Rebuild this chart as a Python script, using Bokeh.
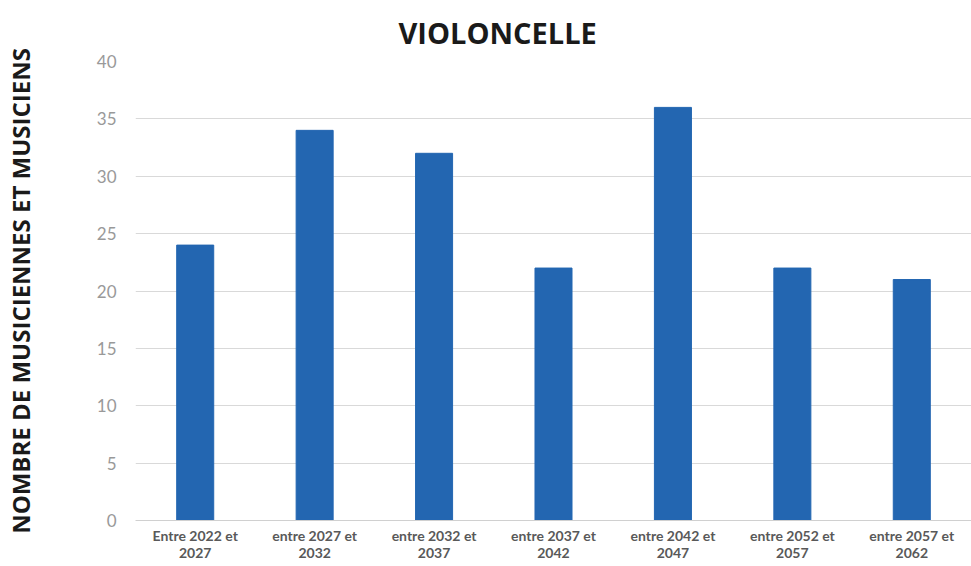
from bokeh.plotting import figure
from bokeh.embed import file_html
from bokeh.resources import INLINE
from bokeh.models import ColumnDataSource, FixedTicker

categories = ["Entre 2022 et\n2027", "entre 2027 et\n2032", "entre 2032 et\n2037",
              "entre 2037 et\n2042", "entre 2042 et\n2047", "entre 2052 et\n2057",
              "entre 2057 et\n2062"]
values = [24, 34, 32, 22, 36, 22, 21]
y_ticks = [0, 5, 10, 15, 20, 25, 30, 35, 40]

src = ColumnDataSource(dict(x=categories, top=values))

p = figure(x_range=categories, y_range=(0, 40), output_backend="svg",
           toolbar_location=None, frame_width=836, frame_height=459,
           min_border_left=10, min_border_right=1, min_border_top=54, min_border_bottom=2,
           title="VIOLONCELLE")
p.vbar(x="x", top="top", width=0.31, source=src, color="#2366b1")

p.title.align = "left"
p.title.offset = 263
p.title.standoff = 20
p.title.text_font = "Open Sans"
p.title.text_font_style = "bold"
p.title.text_font_size = "29px"
p.title.text_line_height = 0.9
p.title.text_color = "#1a1a1a"

p.outline_line_color = None
p.xgrid.grid_line_color = None
p.ygrid.grid_line_color = "#d9d9d9"
p.ygrid.grid_line_width = 1
p.yaxis.ticker = FixedTicker(ticks=y_ticks)
p.yaxis.axis_line_color = None
p.yaxis.major_tick_line_color = None
p.yaxis.minor_tick_line_color = None
p.yaxis.major_label_text_font = "Lato"
p.yaxis.major_label_text_font_size = "17px"
p.yaxis.major_label_text_color = "#999999"
p.yaxis.major_label_standoff = 13
p.yaxis.axis_label = "NOMBRE DE MUSICIENNES ET MUSICIENS"
p.yaxis.axis_label_text_font = "Open Sans"
p.yaxis.axis_label_text_font_style = "bold"
p.yaxis.axis_label_text_font_size = "24px"
p.yaxis.axis_label_text_color = "#1a1a1a"
p.yaxis.axis_label_standoff = 57

p.xaxis.axis_line_color = "#d0d0d0"
p.xaxis.major_tick_line_color = None
p.xaxis.minor_tick_line_color = None
p.xaxis.major_label_text_font = "Lato"
p.xaxis.major_label_text_font_style = "bold"
p.xaxis.major_label_text_font_size = "14px"
p.xaxis.major_label_text_color = "#595959"
p.xaxis.major_label_text_line_height = 1.0
p.xaxis.major_label_standoff = 0

open("out.html", "w").write(file_html(p, INLINE))
